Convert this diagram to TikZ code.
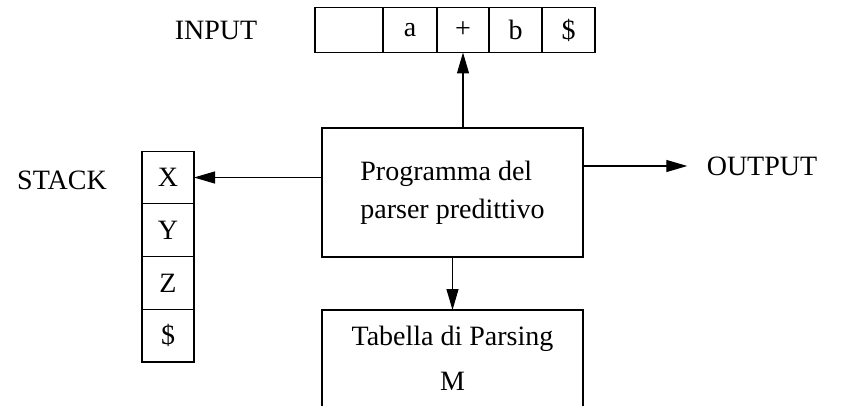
\documentclass[tikz,border=0pt]{standalone}
\usepackage{fontspec}
\setmainfont{Liberation Serif}
\usetikzlibrary{arrows.meta}

\tikzset{
  cell/.style={draw, line width=1.2pt, inner sep=0pt, outer sep=0pt},
  box/.style={draw, line width=1.2pt, inner sep=0pt, outer sep=0pt, minimum width=261pt},
  arr/.style={line width=1.2pt, -{Triangle[length=21pt, width=12pt]}},
}

\begin{document}
\begin{tikzpicture}[x=1pt,y=-1pt, font=\fontsize{28}{38}\selectfont]
\useasboundingbox (0,0) rectangle (846,406);
% input tape
\node[anchor=center] (inlab) at (216,30) {INPUT};
\node[cell, minimum width=68pt, minimum height=45pt] (in1) at (349,30) {};
\node[cell, minimum width=54pt, minimum height=45pt] (in2) at (410,30) {a};
\node[cell, minimum width=52pt, minimum height=45pt] (in3) at (463,30) {+};
\node[cell, minimum width=53pt, minimum height=45pt] (in4) at (515.5,30) {b};
\node[cell, minimum width=53pt, minimum height=45pt] (in5) at (568.5,30) {\$};
% stack
\node (stlab) at (62,180) {STACK};
\node[cell, minimum width=52pt, minimum height=52.7pt] (st1) at (168,177.5) {X};
\node[cell, minimum width=52pt, minimum height=52.7pt] (st2) at (168,230.2) {Y};
\node[cell, minimum width=52pt, minimum height=52.7pt] (st3) at (168,282.9) {Z};
\node[cell, minimum width=52pt, minimum height=52.7pt] (st4) at (168,335.6) {\$};
% parser program
\node[box, minimum height=129pt, align=left] (main) at (452.5,192.5) {Programma del\\parser predittivo};
\node (outlab) at (762,166) {OUTPUT};
% parsing table
\node[box, minimum height=140pt, anchor=north] (tab) at (452.5,310) {};
\node[align=center, font=\fontsize{28}{45}\selectfont] (tablab) at (452.5,358) {Tabella di Parsing\\M};
% connectors
\draw[arr] (main.north -| in3.south) -- (in3.south);
\draw[arr] (main.west |- st1.east) -- (st1.east);
\draw[arr, shorten >=16pt] (main.east |- outlab.west) -- (outlab.west);
\draw[arr] (main.south) -- (tab.north);
\end{tikzpicture}
\end{document}
